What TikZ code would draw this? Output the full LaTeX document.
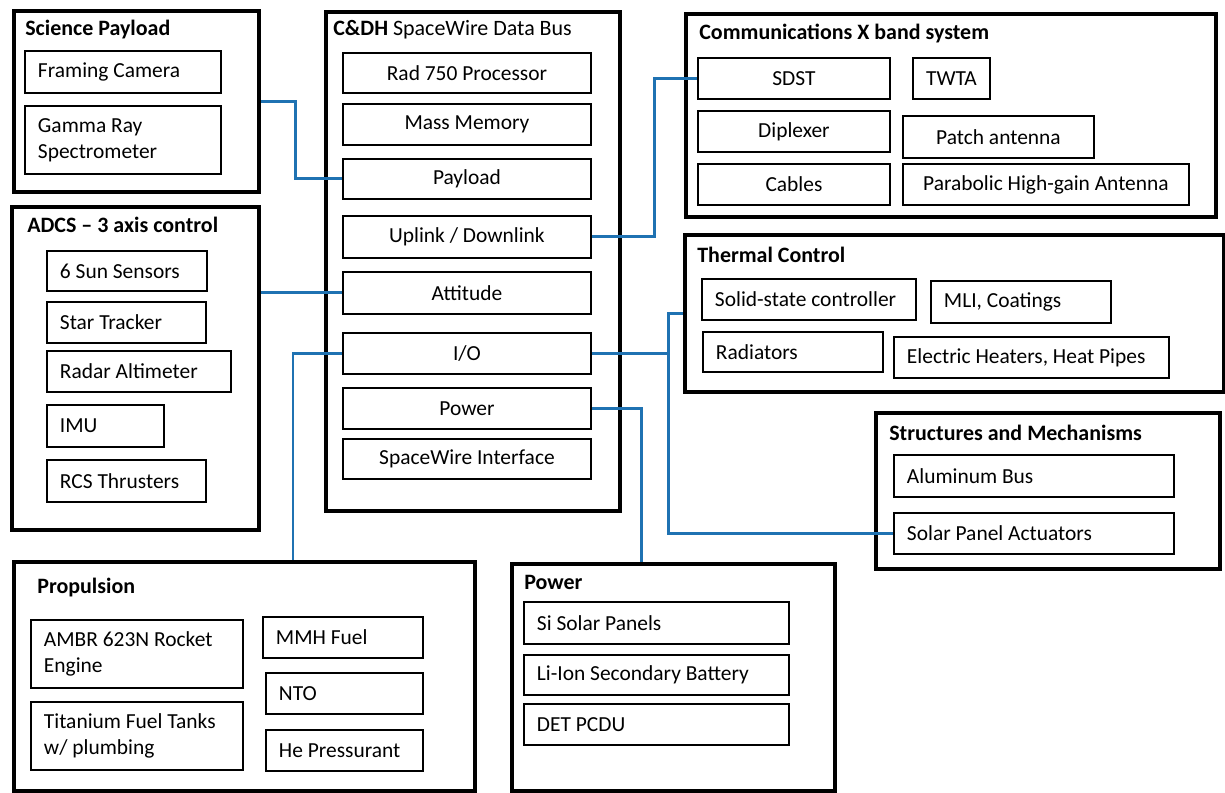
\documentclass[tikz,border=0pt]{standalone}
\usepackage{fontspec}
\setmainfont{Carlito}
\usepackage{tikz}
\usetikzlibrary{positioning}

\definecolor{busblue}{RGB}{31,114,178}

\begin{document}
\begin{tikzpicture}[
    x=0.02cm, y=-0.02cm,
    font=\fontsize{12.2}{15}\selectfont,
    sysbox/.style 2 args={draw, line width=2.3pt, anchor=north west, inner sep=0pt,
        minimum width=#1*0.02cm, minimum height=#2*0.02cm},
    subbox/.style 2 args={draw, line width=1.1pt, anchor=north west, inner sep=0pt,
        minimum width=#1*0.02cm, minimum height=#2*0.02cm, align=center},
    lsubbox/.style 2 args={subbox={#1}{#2}, text width=(#1-26)*0.02cm, align=flush left},
    grouptitle/.style={anchor=west, inner sep=0pt, font=\fontsize{12.5}{15}\selectfont\bfseries},
    bus/.style={draw=busblue, line width=1.7pt}
]
\useasboundingbox (0,0) rectangle (1225,793);

% Science payload
\node[sysbox={245}{181}] (sci) at (12,9) {};
\node[grouptitle] (scit) at (25,30) {Science Payload};
\node[lsubbox={196}{42}] (cam) at (24,50) {Framing Camera};
\node[lsubbox={196}{68}] (gam) at (24,105) {Gamma Ray\\Spectrometer};

% C&DH data bus
\node[sysbox={294}{499}] (cdh) at (324,10) {};
\node[grouptitle, font=\fontsize{12.5}{15}\selectfont] (cdht) at (333,30) {\textbf{C\&DH} SpaceWire Data Bus};
\node[subbox={248}{40}] (rad) at (342,52) {Rad 750 Processor};
\node[subbox={248}{41}] (mem) at (342,103) {Mass Memory};
\node[subbox={248}{40}] (pay) at (342,158) {Payload};
\node[subbox={248}{42}] (up) at (342,215) {Uplink / Downlink};
\node[subbox={248}{42}] (att) at (342,271) {Attitude};
\node[subbox={248}{41}] (io) at (342,332) {I/O};
\node[subbox={248}{41}] (pwr) at (342,387) {Power};
\node[subbox={248}{40}] (swi) at (342,438) {SpaceWire Interface};

% Communications
\node[sysbox={530}{203}] (com) at (684,12) {};
\node[grouptitle] (comt) at (699,34) {Communications X band system};
\node[subbox={192}{41}] (sdst) at (697,57) {SDST};
\node[subbox={77}{41}] (twta) at (912,57) {TWTA};
\node[subbox={192}{41}] (dip) at (697,110) {Diplexer};
\node[subbox={191}{42}] (patch) at (902,115) {Patch antenna};
\node[subbox={192}{41}] (cab) at (697,163) {Cables};
\node[subbox={286}{41}] (para) at (902,163) {Parabolic High-gain Antenna};

% Thermal control
\node[sysbox={539}{157}] (therm) at (683,233) {};
\node[grouptitle] (thermt) at (697,255) {Thermal Control};
\node[lsubbox={214}{41}] (ssc) at (701,278) {Solid-state controller};
\node[lsubbox={180}{42}] (mli) at (930,280) {MLI, Coatings};
\node[lsubbox={180}{40}] (radi) at (702,331) {Radiators};
\node[lsubbox={275}{41}] (heat) at (893,336) {Electric Heaters, Heat Pipes};

% ADCS
\node[sysbox={247}{323}] (adcs) at (10,205) {};
\node[grouptitle] (adcst) at (27,225) {ADCS -- 3 axis control};
\node[lsubbox={160}{40}] (sun) at (46,250) {6 Sun Sensors};
\node[lsubbox={159}{41}] (star) at (46,301) {Star Tracker};
\node[lsubbox={184}{41}] (alt) at (46,350) {Radar Altimeter};
\node[lsubbox={117}{42}] (imu) at (46,404) {IMU};
\node[lsubbox={159}{42}] (rcs) at (46,459) {RCS Thrusters};

% Structures and mechanisms
\node[sysbox={344}{156}] (str) at (874,411) {};
\node[grouptitle] (strt) at (889,433) {Structures and Mechanisms};
\node[lsubbox={280}{42}] (alu) at (893,454) {Aluminum Bus};
\node[lsubbox={280}{41}] (spa) at (893,512) {Solar Panel Actuators};

% Propulsion
\node[sysbox={461}{229}] (prop) at (12,560) {};
\node[grouptitle] (propt) at (37,588) {Propulsion};
\node[lsubbox={212}{68}] (ambr) at (30,619) {AMBR 623N Rocket\\Engine};
\node[lsubbox={212}{68}] (tank) at (30,701) {Titanium Fuel Tanks\\w/ plumbing};
\node[lsubbox={160}{41}] (mmh) at (262,616) {MMH Fuel};
\node[lsubbox={157}{41}] (nto) at (265,672) {NTO};
\node[lsubbox={157}{41}] (he) at (265,729) {He Pressurant};

% Power
\node[sysbox={323}{227}] (psys) at (510,562) {};
\node[grouptitle] (psyst) at (524,582) {Power};
\node[lsubbox={265}{42}] (si) at (523,601) {Si Solar Panels};
\node[lsubbox={265}{40}] (li) at (523,654) {Li-Ion Secondary Battery};
\node[lsubbox={265}{41}] (det) at (523,703) {DET PCDU};

% Bus connections
\draw[bus] (sci.east) -- ++(34,0) |- (pay.west);
\draw[bus] (up.east) -- ++(63,0) |- (sdst.west);
\draw[bus] (adcs.east |- att.west) -- (att.west);
\draw[bus] (io.west) -- ++(-49,0) coordinate (iobend) -- (iobend |- prop.north);
\draw[bus] (pwr.east) -- ++(50,0) coordinate (pwrbend) -- (pwrbend |- psys.north);
\draw[bus] (io.east) -- ++(77,0) coordinate (tjoin);
\draw[bus] (therm.west) -| (tjoin |- spa.west) -- (spa.west);

\end{tikzpicture}
\end{document}
